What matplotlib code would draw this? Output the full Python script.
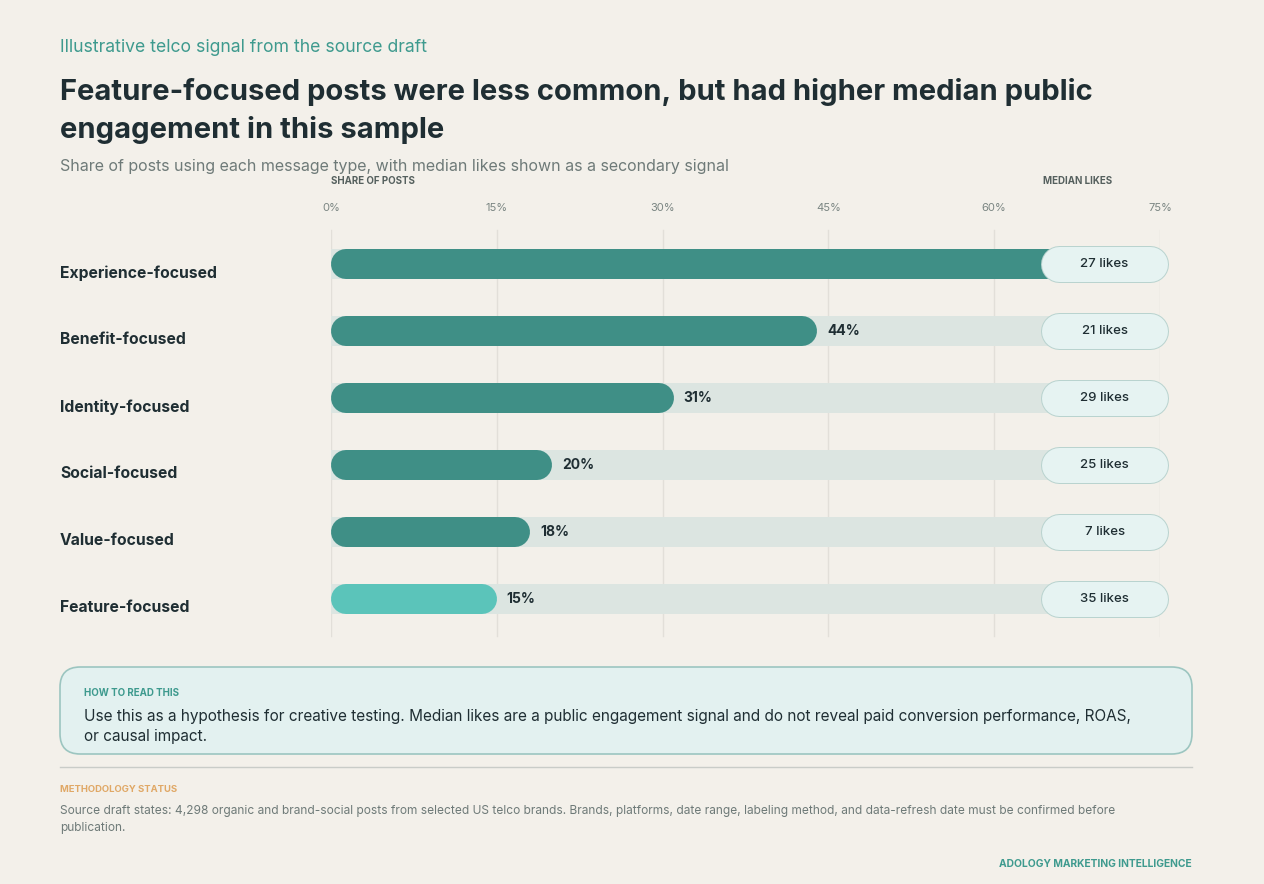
import matplotlib
matplotlib.use("Agg")
import matplotlib.pyplot as plt
from matplotlib.patches import FancyBboxPatch

plt.rcParams['font.family'] = ['Inter', 'DejaVu Sans']

# data
categories = ["Experience-focused", "Benefit-focused", "Identity-focused",
              "Social-focused", "Value-focused", "Feature-focused"]
share = [68, 44, 31, 20, 18, 15]
median_likes = [27, 21, 29, 25, 7, 35]
tick_vals = [0, 15, 30, 45, 60, 75]
tick_labels = ["0%", "15%", "30%", "45%", "60%", "75%"]

W, H = 1264, 884
BG = "#F3F0EA"
DARK = "#1F2E33"
TEAL = "#3E9A8E"
BAR = "#3F8F86"
BAR_HI = "#5BC4BA"
TRACK = "#DCE5E1"
GREY = "#6E7A78"


def fx(x):
    return x / W


def fy(y):
    return 1 - y / H


fig = plt.figure(figsize=(W / 100, H / 100), dpi=100, facecolor=BG)

# header
fig.text(fx(60), fy(47), "Illustrative telco signal from the source draft",
         color=TEAL, fontsize=12.7, va="center")
fig.text(fx(60), fy(92), "Feature-focused posts were less common, but had higher median public",
         color=DARK, fontsize=21, fontweight="bold", va="center")
fig.text(fx(60), fy(130), "engagement in this sample",
         color=DARK, fontsize=21, fontweight="bold", va="center")
fig.text(fx(60), fy(167), "Share of posts using each message type, with median likes shown as a secondary signal",
         color=GREY, fontsize=11.5, va="center")

# chart axes: 0..75 maps to x 331..1160 px
x0, x1 = 331, 1160
top, bot = 225, 640
ax = fig.add_axes([fx(x0), fy(bot), fx(x1 - x0), (bot - top) / H])
ax.set_facecolor(BG)
ax.set_xlim(0, 75)
ax.set_ylim(5.612, -0.582)
for s in ax.spines.values():
    s.set_visible(False)
ax.set_xticks([])
ax.set_yticks([])

upx = 75 / (x1 - x0)  # data units per pixel
pt = 0.72              # points per pixel

for v in tick_vals:
    ax.axvline(v, ymin=(bot - 636) / (bot - top), ymax=(bot - 230) / (bot - top),
               color="#E2DFD9", lw=1, zorder=0)
for v, lab in zip(tick_vals, tick_labels):
    fig.text(fx(x0 + v / upx), fy(208), lab, color="#7A8582", fontsize=8,
             ha="center", va="center")
fig.text(fx(x0), fy(181), "SHARE OF POSTS", color="#55605E", fontsize=7,
         fontweight="bold", ha="left", va="center")
fig.text(fx(1078), fy(181), "MEDIAN LIKES", color="#55605E", fontsize=7,
         fontweight="bold", ha="center", va="center")

bar_h = 30  # px
r = bar_h / 2 * upx
pr = 18 * upx
pill_l, pill_r = 64.24, 75.73
for i, (cat, v, lk) in enumerate(zip(categories, share, median_likes)):
    ax.barh(i, 72, left=0, height=bar_h / 67, color=TRACK, zorder=1)
    col = BAR_HI if cat == "Feature-focused" else BAR
    ax.plot([r, v - r], [i, i], color=col, lw=bar_h * pt,
            solid_capstyle="round", zorder=2)
    # label would sit under the likes pill -> hidden, as in the source
    if v + 10 * upx < pill_l - 4:
        ax.text(v + 10 * upx, i, f"{v}%", color=DARK, fontsize=10,
                fontweight="bold", ha="left", va="center", zorder=3)
    ax.text(-271 * upx, i + 9 / 67, cat, color=DARK, fontsize=11.3,
            fontweight="bold", ha="left", va="center", clip_on=False)
    # median likes pill
    pa, pb = pill_l + pr, pill_r - pr
    ax.plot([pa, pb], [i, i], color="#B9D3CF", lw=37 * pt,
            solid_capstyle="round", zorder=4, clip_on=False)
    ax.plot([pa, pb], [i, i], color="#E6F3F2", lw=35 * pt,
            solid_capstyle="round", zorder=5, clip_on=False)
    ax.text((pa + pb) / 2, i, f"{lk} likes", color=DARK, fontsize=9.5,
            fontweight="medium", ha="center", va="center", zorder=6, clip_on=False)

# how to read box
box = FancyBboxPatch((fx(60), fy(754)), fx(1132), (754 - 667) / H,
                     boxstyle="round,pad=0,rounding_size=0.016",
                     transform=fig.transFigure, facecolor="#E3F1F0",
                     edgecolor="#9CC5C0", lw=1.2)
box.set_mutation_aspect(W / H)
fig.patches.append(box)
fig.text(fx(84), fy(693), "HOW TO READ THIS", color=TEAL, fontsize=7,
         fontweight="bold", va="center")
fig.text(fx(84), fy(716), "Use this as a hypothesis for creative testing. Median likes are a public "
         "engagement signal and do not reveal paid conversion performance, ROAS,",
         color=DARK, fontsize=11.05, va="center")
fig.text(fx(84), fy(737), "or causal impact.", color=DARK, fontsize=11.05, va="center")

# footer
fig.add_artist(plt.Line2D([fx(60), fx(1192)], [fy(767), fy(767)],
                          color="#C9CCC8", lw=1, transform=fig.transFigure))
fig.text(fx(60), fy(790), "METHODOLOGY STATUS", color="#E0A866", fontsize=6.8,
         fontweight="bold", va="center")
fig.text(fx(60), fy(811), "Source draft states: 4,298 organic and brand-social posts from selected "
         "US telco brands. Brands, platforms, date range, labeling method, and data-refresh date "
         "must be confirmed before", color=GREY, fontsize=8.6, va="center")
fig.text(fx(60), fy(828), "publication.", color=GREY, fontsize=8.6, va="center")
fig.text(fx(1192), fy(864), "ADOLOGY MARKETING INTELLIGENCE", color=TEAL, fontsize=7.4,
         fontweight="bold", ha="right", va="center")

fig.savefig("out.png", dpi=100, facecolor=BG)
